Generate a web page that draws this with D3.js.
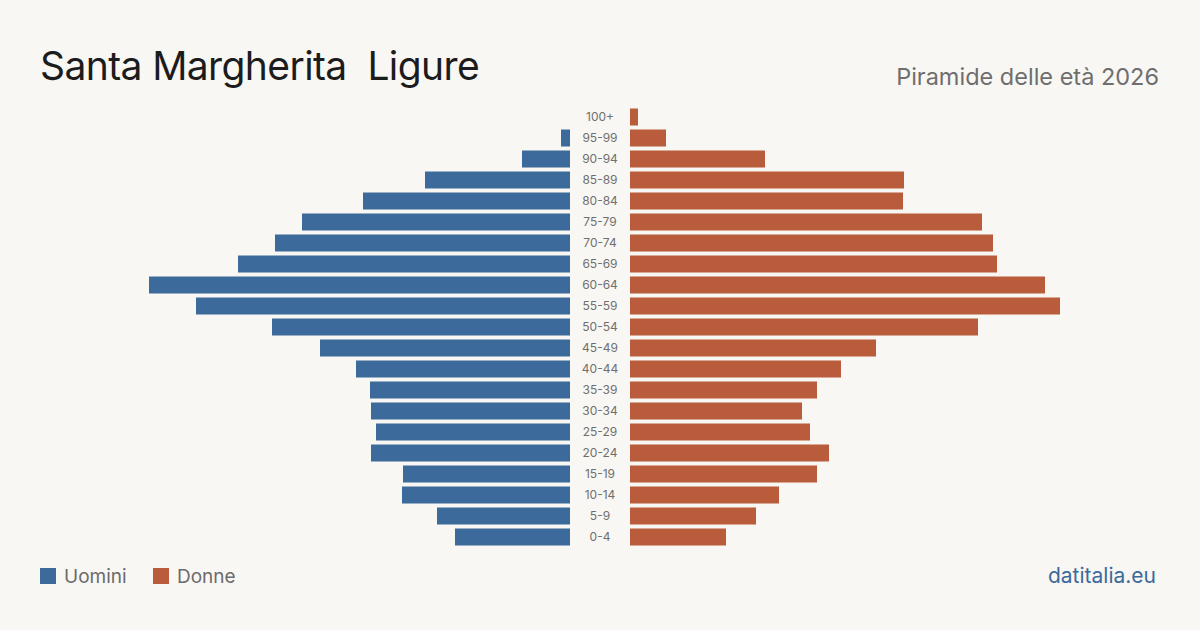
<!DOCTYPE html>
<html>
<head>
<meta charset="utf-8">
<script src="https://cdn.jsdelivr.net/npm/d3@7"></script>
<style>
  html, body { margin: 0; padding: 0; background: #f9f7f3; }
  svg { display: block; font-family: Inter, "Noto Sans", sans-serif; }
</style>
</head>
<body>
<svg id="chart" width="1200" height="630"></svg>
<script>
var ageGroups = ["100+", "95-99", "90-94", "85-89", "80-84", "75-79", "70-74", "65-69", "60-64", "55-59",
                 "50-54", "45-49", "40-44", "35-39", "30-34", "25-29", "20-24", "15-19", "10-14", "5-9", "0-4"];
var uomini = [0, 9, 48, 145, 207, 268, 295, 332, 421, 374,
              298, 250, 214, 200, 199, 194, 199, 167, 168, 133, 115];
var donne = [8, 36, 135, 274, 273, 352, 363, 367, 415, 430,
             348, 246, 211, 187, 172, 180, 199, 187, 149, 126, 96];
var legendLabels = ["Uomini", "Donne"];

var blue = "#3b6a9b", orange = "#b95c3b";
var svg = d3.select("#chart");

// scales
var maxVal = d3.max(uomini.concat(donne));
var xLen = d3.scaleLinear().domain([0, maxVal]).range([0, 430]);
var y = d3.scaleBand().domain(ageGroups).range([106.5, 547.5]).paddingInner(4 / 21).paddingOuter(2 / 21);

var leftEdge = 570, rightEdge = 630, center = 600;

// title
svg.append("text")
    .attr("x", 40).attr("y", 80)
    .attr("font-size", 39)
    .attr("letter-spacing", -0.6)
    .attr("fill", "#1c1c1c")
    .style("white-space", "pre")
    .text("Santa Margherita  Ligure");

svg.append("text")
    .attr("x", 1159).attr("y", 85)
    .attr("text-anchor", "end")
    .attr("font-size", 23.5)
    .attr("fill", "#6e6e6e")
    .text("Piramide delle età 2026");

// men bars
svg.append("g").selectAll("rect")
    .data(uomini)
    .enter()
    .append("rect")
    .attr("x", function (d) { return leftEdge - xLen(d); })
    .attr("y", function (d, i) { return y(ageGroups[i]); })
    .attr("width", function (d) { return xLen(d); })
    .attr("height", y.bandwidth())
    .attr("fill", blue);

// women bars
svg.append("g").selectAll("rect")
    .data(donne)
    .enter()
    .append("rect")
    .attr("x", rightEdge)
    .attr("y", function (d, i) { return y(ageGroups[i]); })
    .attr("width", function (d) { return xLen(d); })
    .attr("height", y.bandwidth())
    .attr("fill", orange);

// age labels
svg.append("g").selectAll("text")
    .data(ageGroups)
    .enter()
    .append("text")
    .attr("x", center)
    .attr("y", function (d) { return y(d) + y.bandwidth() / 2; })
    .attr("dy", ".35em")
    .attr("text-anchor", "middle")
    .attr("font-size", 12)
    .attr("fill", "#6f6f6f")
    .text(function (d) { return d; });

// legend
var legendX = [40, 153];
var legendColors = [blue, orange];
legendLabels.forEach(function (lbl, i) {
    svg.append("rect")
        .attr("x", legendX[i]).attr("y", 568)
        .attr("width", 16).attr("height", 16)
        .attr("fill", legendColors[i]);
    svg.append("text")
        .attr("x", legendX[i] + 24).attr("y", 583)
        .attr("font-size", 19)
        .attr("fill", "#6b6b6b")
        .text(lbl);
});

svg.append("text")
    .attr("x", 1156).attr("y", 583)
    .attr("text-anchor", "end")
    .attr("font-size", 21)
    .attr("fill", blue)
    .text("datitalia.eu");
</script>
</body>
</html>
